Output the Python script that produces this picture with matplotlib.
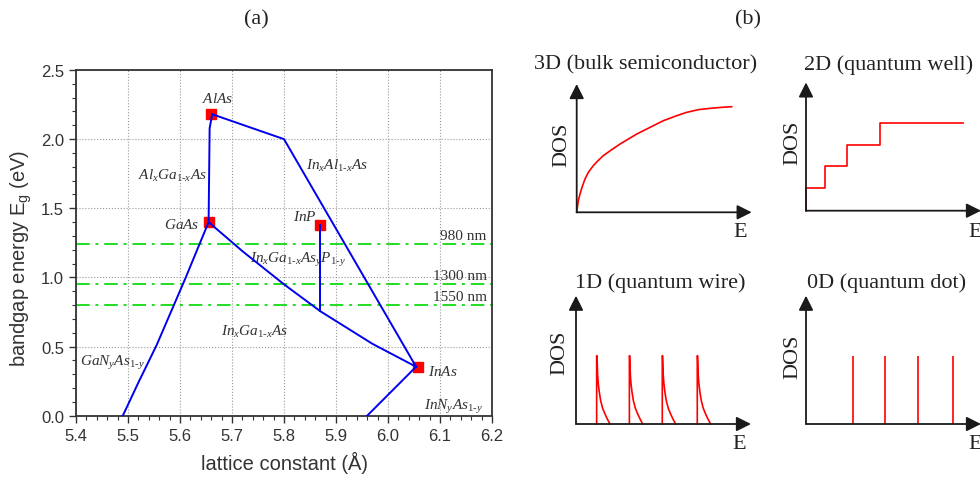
import matplotlib
matplotlib.use('Agg')
import matplotlib.pyplot as plt
import numpy as np
from matplotlib.ticker import MultipleLocator, FormatStrFormatter

plt.rcParams['mathtext.fontset'] = 'custom'
plt.rcParams['mathtext.it'] = 'Liberation Serif:italic'
plt.rcParams['mathtext.rm'] = 'Liberation Serif'
plt.rcParams['mathtext.sf'] = 'Liberation Sans'
plt.rcParams['mathtext.default'] = 'it'

# binary compounds: lattice constant (A), bandgap (eV)
compounds = ['AlAs', 'GaAs', 'InP', 'InAs']
comp_a = [5.660, 5.655, 5.870, 6.058]
comp_eg = [2.18, 1.40, 1.38, 0.35]

# ternary / quaternary alloy curves
algaas_a = [5.655, 5.657, 5.662]
algaas_eg = [1.40, 2.08, 2.18]
inalas_a = [5.662, 5.800, 6.054]
inalas_eg = [2.18, 2.00, 0.354]
ingaas_a = [5.655, 5.720, 5.800, 5.870, 5.970, 6.054]
ingaas_eg = [1.40, 1.19, 0.95, 0.755, 0.52, 0.354]
ingaasp_a = [5.870, 5.870]
ingaasp_eg = [1.38, 0.755]
ganas_a = [5.655, 5.610, 5.555, 5.520, 5.490]
ganas_eg = [1.40, 0.99, 0.51, 0.24, 0.0]
innas_a = [6.054, 5.960]
innas_eg = [0.354, 0.0]

# telecom wavelengths
wl_labels = ['980 nm', '1300 nm', '1550 nm']
wl_eg = [1.24, 0.95, 0.80]

# density of states sketches (arbitrary units)
bulk_E = [0, 0.038, 0.095, 0.19, 0.324, 0.476, 0.667, 0.952, 1.238, 1.524, 2.0,
          2.476, 2.952, 3.429, 4.19, 4.952, 5.714, 6.286, 6.952, 7.619, 8.286, 8.857]
bulk_dos = [0, 0.39, 0.91, 1.43, 2.03, 2.60, 3.12, 3.64, 4.05, 4.42, 4.88,
            5.32, 5.71, 6.10, 6.62, 7.14, 7.53, 7.79, 8.0, 8.10, 8.18, 8.23]
well_edges = [0, 1.09, 2.33, 4.23, 8.97]
well_levels = [1.75, 3.45, 5.15, 6.85]
wire_onsets = [1.18, 3.05, 4.93, 6.93]
wire_tail_dE = [0, 0.019, 0.038, 0.057, 0.095, 0.152, 0.229, 0.343, 0.476, 0.610, 0.762]
wire_tail_dos = [5.32, 5.32, 4.55, 3.77, 3.12, 2.47, 1.82, 1.22, 0.78, 0.39, 0.0]
dot_levels = [2.67, 4.53, 6.42, 8.38]
dot_height = 5.32

W, H = 980, 481
fig = plt.figure(figsize=(W / 100, H / 100), dpi=100)

gray = '#333333'
sans = 'Liberation Sans'
serif = 'Liberation Serif'

# ---- (a) bandgap vs lattice constant ----
ax = fig.add_axes([76 / W, 1 - 416.7 / H, 416 / W, 345.7 / H])
ax.set_xlim(5.4, 6.2)
ax.set_ylim(0, 2.5)
ax.xaxis.set_major_locator(MultipleLocator(0.1))
ax.xaxis.set_minor_locator(MultipleLocator(0.02))
ax.yaxis.set_major_locator(MultipleLocator(0.5))
ax.yaxis.set_minor_locator(MultipleLocator(0.1))
ax.xaxis.set_major_formatter(FormatStrFormatter('%.1f'))
ax.yaxis.set_major_formatter(FormatStrFormatter('%.1f'))
ax.grid(True, which='major', ls=':', lw=0.8, color='#999999')
ax.tick_params(which='both', direction='out', color=gray, labelcolor=gray,
               labelsize=12, top=False, right=False)
ax.tick_params(which='major', length=5, width=1)
ax.tick_params(which='minor', length=3, width=0.8)
for lab in ax.get_xticklabels() + ax.get_yticklabels():
    lab.set_family(sans)
for s in ax.spines.values():
    s.set_linewidth(1.3)
    s.set_color(gray)
ax.set_xlabel('lattice constant (Å)', family=sans, fontsize=14.5, color=gray, labelpad=6)
ax.set_ylabel(r'bandgap energy E$_{\mathsf{g}}$ (eV)', family=sans, fontsize=14.5,
              color=gray)
ax.yaxis.set_label_coords(-0.101, 0.459)

for e in wl_eg:
    ax.axhline(e, color='#22dd22', lw=1.4, ls=(0, (7, 3, 1.5, 3)), zorder=2)

ax.plot(comp_a, comp_eg, 's', color='red', ms=7.5, mec='red', zorder=3)
for xa, ye in [(algaas_a, algaas_eg), (inalas_a, inalas_eg), (ingaas_a, ingaas_eg),
               (ingaasp_a, ingaasp_eg), (ganas_a, ganas_eg), (innas_a, innas_eg)]:
    ax.plot(xa, ye, color='#0000ee', lw=1.4, zorder=4)

lbl = dict(fontsize=11, color=gray, va='center')
ax.text(5.673, 2.30, r'$AlAs$', ha='center', **lbl)
ax.text(5.638, 1.393, r'$GaAs$', ha='right', **lbl)
ax.text(5.84, 1.446, r'$InP$', ha='center', **lbl)
ax.text(6.076, 0.33, r'$InAs$', ha='left', **lbl)
ax.text(5.585, 1.74, r'$Al_xGa_{1\text{-}x}As$', ha='center', **lbl)
ax.text(5.902, 1.81, r'$In_xAl_{1\text{-}x}As$', ha='center', **lbl)
ax.text(5.826, 1.13, r'$In_xGa_{1\text{-}x}As_yP_{1\text{-}y}$', ha='center', **lbl)
ax.text(5.744, 0.61, r'$In_xGa_{1\text{-}x}As$', ha='center', **lbl)
ax.text(5.469, 0.39, r'$GaN_yAs_{1\text{-}y}$', ha='center', **lbl)
ax.text(6.125, 0.07, r'$InN_yAs_{1\text{-}y}$', ha='center', **lbl)
for name, e in zip(wl_labels, wl_eg):
    ax.text(6.19, e + 0.065, name, ha='right', va='center', family=serif,
            fontsize=11, color=gray)

# ---- (b) density of states for 3D/2D/1D/0D ----
def dos_axes(x0, y0, title, title_x, title_y, dos_xy, e_xy):
    a = fig.add_axes([x0 / W, 1 - y0 / H, 175 / W, 128.3 / H])
    a.set_xlim(0, 10)
    a.set_ylim(0, 10)
    a.axis('off')
    arrow = dict(arrowstyle='-|>', color='#1a1a1a', lw=1.3, mutation_scale=22,
                 shrinkA=0, shrinkB=0)
    a.annotate('', xy=(10, 0), xytext=(0, 0), arrowprops=arrow, annotation_clip=False)
    a.annotate('', xy=(0, 10), xytext=(0, 0), arrowprops=arrow, annotation_clip=False)
    fig.text(title_x / W, 1 - title_y / H, title, ha='center', va='center',
             family=serif, fontsize=16, color='#222222')
    fig.text(dos_xy[0] / W, 1 - dos_xy[1] / H, 'DOS', rotation=90, ha='center',
             va='center', family=serif, fontsize=16, color='#222222')
    fig.text(e_xy[0] / W, 1 - e_xy[1] / H, 'E', ha='center', va='center',
             family=serif, fontsize=16, color='#222222')
    return a

a3 = dos_axes(576.7, 213.3, '3D (bulk semiconductor)', 646, 65, (561.7, 145), (740, 233))
a3.plot(bulk_E, bulk_dos, color='red', lw=1.2, clip_on=False)

a2 = dos_axes(806, 211.7, '2D (quantum well)', 889, 65, (793, 143), (975, 233))
xs = np.repeat(well_edges, 2)[:-1]
ys = np.concatenate([[0], np.repeat(well_levels, 2)])
a2.plot(xs, ys, color='red', lw=1.2, clip_on=False)

a1 = dos_axes(576, 425, '1D (quantum wire)', 660, 282.7, (560, 353), (739, 445))
for e0 in wire_onsets:
    a1.plot([e0] + [e0 + d for d in wire_tail_dE], [0] + wire_tail_dos,
            color='red', lw=1.2, clip_on=False)

a0 = dos_axes(806, 425, '0D (quantum dot)', 887, 282.7, (793, 357), (975, 445))
a0.vlines(dot_levels, 0, dot_height, color='red', lw=1.2)

fig.text(256 / W, 1 - 20 / H, '(a)', ha='center', va='center', family=serif,
         fontsize=16, color='#222222')
fig.text(748 / W, 1 - 20 / H, '(b)', ha='center', va='center', family=serif,
         fontsize=16, color='#222222')

fig.savefig('out.png', dpi=100)
